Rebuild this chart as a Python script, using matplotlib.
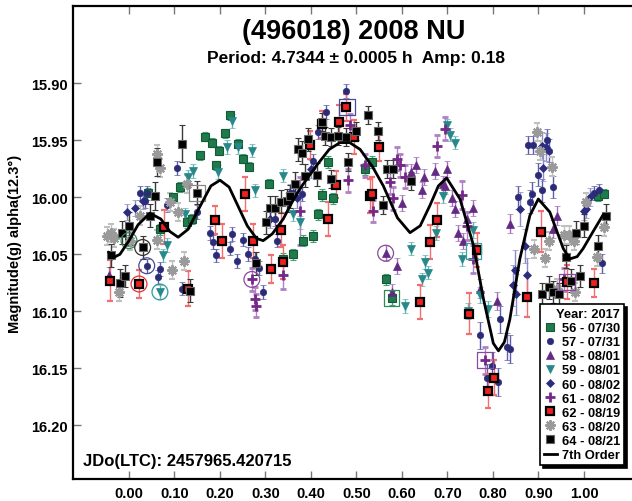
import matplotlib
matplotlib.use("Agg")
import matplotlib.pyplot as plt
from matplotlib.lines import Line2D

plt.rcParams['font.family'] = ['Liberation Sans', 'DejaVu Sans']
plt.rcParams['font.weight'] = 'bold'

# --- data (phase, magnitude, error) ---
s56_x = [0.0, 0.042, 0.068, 0.097, 0.112, 0.127, 0.138, 0.156, 0.167, 0.182, 0.191, 0.198,
         0.211, 0.222, 0.24, 0.251, 0.264, 0.308, 0.339, 0.361, 0.382, 0.405, 0.416, 0.424,
         0.438, 0.448, 0.519, 0.533, 0.564, 0.577, 1.031, 1.043]
s56_y = [16.038, 15.996, 16.028, 16.000, 15.991, 16.022, 16.019, 15.963, 15.947, 15.952, 15.972, 15.959,
         15.944, 15.928, 15.953, 15.966, 15.973, 15.988, 16.054, 16.050, 16.038, 16.034, 16.015, 15.998,
         15.969, 16.001, 15.975, 15.969, 16.072, 16.088, 15.999, 15.997]
s56_e = [0.005, 0.004, 0.005, 0.004, 0.004, 0.005, 0.004, 0.004, 0.004, 0.004, 0.004, 0.004,
         0.004, 0.004, 0.004, 0.004, 0.004, 0.004, 0.005, 0.005, 0.005, 0.005, 0.005, 0.005,
         0.005, 0.005, 0.005, 0.005, 0.005, 0.006, 0.004, 0.004]

s57_x = [0.024, 0.035, 0.04, 0.039, 0.064, 0.068, 0.083, 0.105, 0.116, 0.149, 0.178, 0.185,
         0.191, 0.222, 0.226, 0.237, 0.25, 0.262, 0.277, 0.285, 0.295, 0.321, 0.325, 0.361,
         0.38, 0.405, 0.416, 0.434, 0.478, 0.771, 0.786, 0.797, 0.811, 0.815, 0.83, 0.837,
         0.855, 0.878, 0.888, 0.881, 0.885, 0.9, 0.907, 0.918, 0.922, 0.932, 1.021, 1.032, 1.039]
s57_y = [15.996, 16.003, 15.996, 16.060, 16.070, 16.063, 16.007, 15.974, 16.080, 16.013, 16.031, 16.039,
         16.051, 16.045, 16.032, 16.056, 16.037, 16.050, 16.054, 16.062, 16.083, 16.019, 16.038, 15.996,
         15.997, 15.968, 15.943, 15.925, 15.907, 16.121, 16.158, 16.148, 16.162, 16.107, 16.131, 16.133,
         16.000, 15.954, 15.954, 16.004, 15.997, 15.980, 15.994, 15.950, 15.959, 15.991, 15.996, 15.994, 16.058]
s57_e = [0.006, 0.006, 0.006, 0.006, 0.006, 0.006, 0.006, 0.006, 0.006, 0.006, 0.006, 0.006,
         0.006, 0.006, 0.006, 0.006, 0.006, 0.006, 0.006, 0.006, 0.006, 0.006, 0.006, 0.006,
         0.006, 0.006, 0.006, 0.006, 0.006, 0.012, 0.012, 0.012, 0.012, 0.012, 0.012, 0.012,
         0.010, 0.008, 0.008, 0.010, 0.010, 0.010, 0.010, 0.010, 0.010, 0.010, 0.006, 0.006, 0.008]

s58_x = [-0.045, 0.564, 0.577, 0.588, 0.601, 0.619, 0.631, 0.643, 0.649, 0.672, 0.69, 0.7,
         0.694, 0.709, 0.716, 0.724, 0.735, 0.742, 0.757, 0.771, 0.808, 0.837, 0.932, 0.94]
s58_y = [16.068, 16.049, 16.083, 16.060, 16.005, 15.978, 15.972, 15.994, 15.982, 15.977, 15.988, 15.975,
         15.990, 16.001, 16.010, 16.031, 16.038, 16.019, 16.009, 16.080, 16.091, 16.023, 16.028, 16.016]
s58_e = [0.007, 0.007, 0.007, 0.007, 0.007, 0.007, 0.007, 0.007, 0.007, 0.007, 0.007, 0.007,
         0.007, 0.007, 0.007, 0.007, 0.007, 0.007, 0.007, 0.008, 0.008, 0.008, 0.008, 0.008]

s59_x = [0.068, 0.075, 0.083, 0.123, 0.13, 0.141, 0.196, 0.215, 0.226, 0.24, 0.27, 0.277,
         0.339, 0.361, 0.376, 0.606, 0.619, 0.643, 0.651, 0.658, 0.675, 0.691, 0.698, 0.706,
         0.716, 0.732, 0.745, 0.757, 0.771, 0.79]
s59_y = [16.083, 16.051, 16.042, 16.015, 15.982, 15.977, 15.978, 15.956, 15.933, 15.956, 15.959, 15.994,
         15.981, 16.015, 16.022, 16.095, 16.045, 16.072, 16.057, 16.066, 16.031, 15.999, 15.937, 15.945,
         15.952, 16.054, 16.100, 16.029, 16.086, 16.098]
s59_e = [0.006, 0.006, 0.006, 0.006, 0.006, 0.006, 0.006, 0.006, 0.006, 0.006, 0.006, 0.006,
         0.006, 0.006, 0.006, 0.006, 0.006, 0.006, 0.006, 0.006, 0.006, 0.006, 0.006, 0.006,
         0.006, 0.006, 0.007, 0.007, 0.007, 0.007]

s60_x = [-0.005, 0.013, 0.031, 0.31, 0.35, 0.354, 0.369, 0.4, 0.844, 0.848, 0.851, 0.859,
         0.871, 0.874, 0.907, 0.917, 0.91, 0.999, 1.013, 1.005]
s60_y = [16.013, 16.009, 16.003, 16.019, 16.004, 15.996, 16.001, 15.975, 16.077, 16.064, 16.085, 16.010,
         16.043, 16.068, 15.955, 15.956, 15.974, 16.012, 16.000, 16.010]
s60_e = [0.007, 0.007, 0.007, 0.008, 0.008, 0.008, 0.008, 0.008, 0.018, 0.018, 0.018, 0.015,
         0.015, 0.015, 0.012, 0.012, 0.012, 0.008, 0.008, 0.008]

s61_x = [0.27, 0.277, 0.28, 0.339, 0.376, 0.482, 0.486, 0.519, 0.537, 0.574, 0.581, 0.588,
         0.595, 0.606, 0.676, 0.694, 0.732, 0.742, 0.757, 0.782, 0.955]
s61_y = [16.072, 16.089, 16.095, 16.068, 16.012, 15.985, 15.937, 15.972, 16.012, 15.987, 16.001, 15.966,
         15.972, 15.982, 15.955, 15.940, 15.998, 16.025, 16.054, 16.143, 16.072]
s61_e = [0.010, 0.010, 0.010, 0.012, 0.030, 0.010, 0.010, 0.010, 0.010, 0.010, 0.010, 0.010,
         0.010, 0.010, 0.010, 0.010, 0.012, 0.012, 0.012, 0.012, 0.010]

s62_x = [-0.042, 0.022, 0.077, 0.13, 0.189, 0.204, 0.255, 0.273, 0.313, 0.335, 0.339, 0.398,
         0.424, 0.438, 0.455, 0.462, 0.478, 0.495, 0.529, 0.535, 0.55, 0.64, 0.662, 0.678,
         0.748, 0.764, 0.788, 0.802, 0.874, 0.905, 0.962, 1.021]
s62_y = [16.073, 16.076, 16.026, 16.080, 16.020, 16.038, 15.997, 16.038, 16.063, 16.029, 16.057, 15.954,
         15.936, 16.019, 15.989, 15.934, 15.921, 15.947, 15.999, 15.997, 15.956, 16.092, 16.039, 16.020,
         16.102, 16.046, 16.170, 16.158, 16.087, 16.030, 16.074, 16.075]
s62_e = [0.018, 0.012, 0.015, 0.015, 0.012, 0.015, 0.015, 0.015, 0.012, 0.015, 0.015, 0.012,
         0.012, 0.015, 0.012, 0.015, 0.012, 0.015, 0.015, 0.015, 0.012, 0.015, 0.015, 0.015,
         0.018, 0.015, 0.015, 0.015, 0.018, 0.018, 0.015, 0.012]

s63_x = [-0.049, -0.04, -0.033, -0.023, 0.002, 0.024, 0.061, 0.068, 0.061, 0.09, 0.094, 0.108,
         0.12, 0.127, 0.896, 0.903, 0.89, 0.914, 0.929, 0.922, 0.94, 0.955, 0.966, 0.977,
         0.98, 1.005, 1.028, 1.043]
s63_y = [16.034, 16.031, 16.036, 16.083, 16.038, 16.016, 15.962, 15.974, 16.037, 16.004, 16.064, 16.013,
         16.056, 15.988, 15.943, 15.959, 16.045, 16.053, 15.973, 16.038, 16.080, 16.033, 16.033, 16.038,
         16.083, 16.004, 16.052, 16.026]
s63_e = [0.008, 0.008, 0.008, 0.008, 0.008, 0.008, 0.008, 0.008, 0.008, 0.008, 0.008, 0.008,
         0.008, 0.008, 0.008, 0.008, 0.008, 0.008, 0.008, 0.008, 0.008, 0.008, 0.008, 0.008,
         0.008, 0.008, 0.008, 0.008]

s64_x = [-0.04, -0.02, -0.009, -0.016, 0.0, 0.03, 0.046, 0.057, 0.061, 0.117, 0.134, 0.149,
         0.28, 0.302, 0.31, 0.321, 0.335, 0.347, 0.354, 0.365, 0.372, 0.38, 0.387, 0.394,
         0.413, 0.424, 0.43, 0.445, 0.444, 0.46, 0.478, 0.482, 0.5, 0.525, 0.548, 0.559,
         0.566, 0.581, 0.619, 0.907, 0.922, 0.932, 0.945, 0.961, 0.972, 0.983, 0.992, 1.0,
         1.031, 1.048]
s64_y = [16.051, 16.075, 16.069, 16.031, 16.025, 16.044, 16.016, 15.999, 15.969, 15.953, 16.082, 15.996,
         16.058, 16.022, 16.009, 16.009, 16.004, 16.003, 15.999, 15.988, 15.958, 15.961, 15.981, 15.949,
         15.980, 15.934, 15.946, 15.947, 15.984, 15.946, 15.947, 15.969, 15.942, 15.928, 15.942, 16.007,
         15.975, 15.975, 15.986, 16.085, 16.079, 16.083, 16.085, 16.052, 16.073, 16.031, 16.069, 16.025,
         16.043, 16.016]
s64_e = [0.010, 0.012, 0.010, 0.010, 0.012, 0.010, 0.010, 0.012, 0.012, 0.016, 0.010, 0.010,
         0.010, 0.010, 0.010, 0.010, 0.010, 0.010, 0.010, 0.010, 0.010, 0.010, 0.010, 0.010,
         0.010, 0.008, 0.008, 0.008, 0.008, 0.008, 0.008, 0.008, 0.008, 0.008, 0.008, 0.008,
         0.008, 0.008, 0.008, 0.010, 0.010, 0.010, 0.010, 0.010, 0.010, 0.010, 0.010, 0.010,
         0.010, 0.010]

# 7th order Fourier fit
fit_x = [-0.045, -0.035, -0.02, 0.0, 0.02, 0.046, 0.07, 0.09, 0.108, 0.13, 0.16, 0.18, 0.2, 0.22,
         0.24, 0.26, 0.28, 0.295, 0.315, 0.339, 0.36, 0.38, 0.4125, 0.44, 0.4637, 0.485, 0.508,
         0.535, 0.559, 0.59, 0.6176, 0.64, 0.6615, 0.68, 0.698, 0.7275, 0.757, 0.779, 0.8007,
         0.812, 0.825, 0.837, 0.859, 0.881, 0.8996, 0.925, 0.9545, 0.969, 0.985, 0.998, 1.02, 1.0425]
fit_y = [16.048, 16.053, 16.050, 16.038, 16.024, 16.014, 16.019, 16.030, 16.035, 16.028, 16.005,
         15.990, 15.985, 15.991, 16.008, 16.025, 16.036, 16.038, 16.032, 16.019, 16.003, 15.990,
         15.972, 15.958, 15.952, 15.952, 15.958, 15.973, 15.990, 16.018, 16.031, 16.025, 16.007,
         15.990, 15.983, 16.0015, 16.042, 16.089, 16.128, 16.1346, 16.127, 16.107, 16.054, 16.016,
         16.0015, 16.013, 16.045, 16.054, 16.052, 16.045, 16.030, 16.015]

# points flagged with an open circle / open square in the original
ring_x = [0.0, 0.022, 0.03, 0.039, 0.068, 0.27, 0.564]
ring_y = [16.038, 16.076, 16.044, 16.060, 16.083, 16.072, 16.049]
ring_c = ['#2e8b57', '#e03030', '#333333', '#4a4a9a', '#2a9a9a', '#8a4a9a', '#8a4a9a']
box_x = [0.577, 0.48, 0.149, 0.757, 0.782, 0.962]
box_y = [16.088, 15.921, 15.996, 16.047, 16.143, 16.074]
box_c = ['#2e8b57', '#4a4a9a', '#888888', '#3aa0a0', '#8a4a9a', '#8a4a9a']

labels = ['56 - 07/30', '57 - 07/31', '58 - 08/01', '59 - 08/01', '60 - 08/02',
          '61 - 08/02', '62 - 08/19', '63 - 08/20', '64 - 08/21']
xticks = [0.0, 0.1, 0.2, 0.3, 0.4, 0.5, 0.6, 0.7, 0.8, 0.9, 1.0]
yticks = [15.90, 15.95, 16.00, 16.05, 16.10, 16.15, 16.20]

series = [
    (s56_x, s56_y, s56_e, dict(marker='s', ms=5.5, mfc='#1f7a4c', mec='#145a36', mew=0.8), '#46a278'),
    (s57_x, s57_y, s57_e, dict(marker='o', ms=4.6, mfc='#2b2b78', mec='#2b2b78', mew=0.5), '#5c5ca8'),
    (s58_x, s58_y, s58_e, dict(marker='^', ms=6, mfc='#642a82', mec='#642a82', mew=0.5), '#a070b8'),
    (s59_x, s59_y, s59_e, dict(marker='v', ms=6, mfc='#26888a', mec='#26888a', mew=0.5), '#62b2b2'),
    (s60_x, s60_y, s60_e, dict(marker='D', ms=3.8, mfc='#2c2c7e', mec='#2c2c7e', mew=0.5), '#8c8cc4'),
    (s61_x, s61_y, s61_e, dict(marker='+', ms=7.5, mfc='#752888', mec='#752888', mew=2), '#b080c4'),
    (s62_x, s62_y, s62_e, dict(marker='s', ms=5.6, mfc='#f02020', mec='black', mew=1.6), '#f07070'),
    (s63_x, s63_y, s63_e, dict(marker=(8, 2, 0), ms=7.5, mfc='#9a9a9a', mec='#9a9a9a', mew=1.5), '#c0c0c0'),
    (s64_x, s64_y, s64_e, dict(marker='s', ms=5.8, mfc='black', mec='#666666', mew=0.8), '#3a3a3a'),
]

fig = plt.figure(figsize=(6.32, 5.02), dpi=100)
ax = fig.add_axes([73.3 / 632, 22 / 502, (632 - 73.3) / 632, (480 - 7.3) / 502])

handles = []
for (xs, ys, es, st, ecol), lab in zip(series, labels):
    ax.errorbar(xs, ys, yerr=es, ls='none', ecolor=ecol, elinewidth=1,
                capsize=2.5, capthick=1, zorder=3, **st)
    handles.append(Line2D([], [], ls='none', **st))

ax.scatter(ring_x, ring_y, s=130, facecolors='none', edgecolors=ring_c, linewidths=0.9, zorder=4)
ax.scatter(box_x, box_y, s=130, marker='s', facecolors='none', edgecolors=box_c, linewidths=0.9, zorder=4)

ax.plot(fit_x, fit_y, color='black', lw=2.0, zorder=5, solid_capstyle='round')
handles.append(Line2D([], [], color='black', lw=2))

ax.set_xlim(-0.1224, 1.1055)
ax.set_ylim(16.247, 15.8325)
ax.set_xticks(xticks)
ax.set_xticklabels(['%.2f' % v for v in xticks])
ax.set_yticks(yticks)
ax.set_yticklabels(['%.2f' % v for v in yticks])
ax.tick_params(axis='x', direction='in', length=6, width=1, color='#777777',
               labelsize=10.5, pad=5, top=True)
ax.tick_params(axis='y', direction='in', length=6, width=1, color='#777777',
               labelsize=10.5, pad=4)
for sp in ['left', 'bottom', 'top']:
    ax.spines[sp].set_linewidth(1.6)
ax.spines['right'].set_visible(False)

ax.set_ylabel('Magnitude(g) alpha(12.3°)', fontsize=10.5, fontweight='bold')
ax.yaxis.set_label_coords(-0.092, 0.5)

fig.text(354 / 632, 1 - 31.7 / 502, '(496018) 2008 NU', ha='center', va='center',
         fontsize=19.5, fontweight='bold')
fig.text(356 / 632, 1 - 59 / 502, 'Period: 4.7344 ± 0.0005 h  Amp: 0.18', ha='center',
         va='center', fontsize=12.5, fontweight='bold')
fig.text(82.7 / 632, 1 - 461.7 / 502, 'JDo(LTC): 2457965.420715', ha='left', va='center',
         fontsize=12, fontweight='bold')

leg = ax.legend(handles, labels + ['7th Order'], title='Year: 2017', alignment='right',
                loc='lower right', bbox_to_anchor=(624 / 632, 1 - 466 / 502),
                bbox_transform=fig.transFigure, fontsize=9.3, title_fontsize=9.3,
                frameon=True, fancybox=False, edgecolor='black', framealpha=1,
                shadow={'color': 'black', 'alpha': 1}, handlelength=1.0, handletextpad=0.4,
                labelspacing=0.16, borderpad=0.3, borderaxespad=0)
leg.get_frame().set_linewidth(1.2)
leg.get_title().set_fontweight('bold')
leg.set_zorder(10)

fig.savefig('out.png', dpi=100)
